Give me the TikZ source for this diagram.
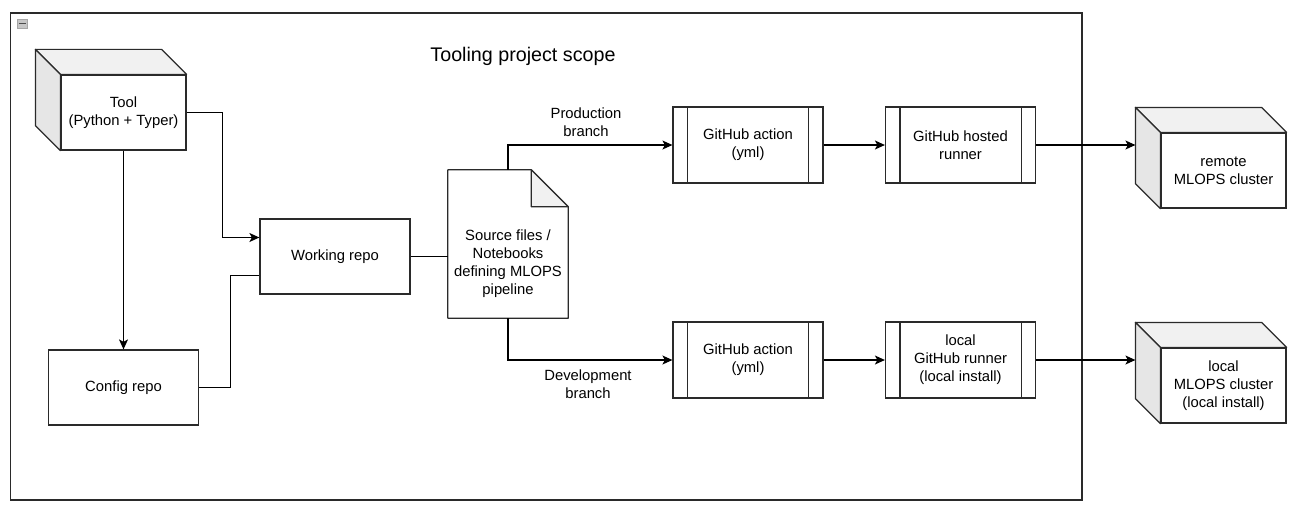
\documentclass[tikz,border=0pt]{standalone}
\usepackage{fontspec}
\setmainfont{Liberation Sans}
\usetikzlibrary{arrows.meta,calc}
\definecolor{lc}{HTML}{2A2A2A}
\definecolor{topc}{HTML}{F1F1F1}
\definecolor{sidec}{HTML}{E6E6E6}
\tikzset{
  base/.style={font=\fontsize{14.8}{18}\selectfont, align=center, text=black, inner sep=0pt},
  box/.style={base, draw=lc, line width=1.2pt, fill=white, minimum width=150pt, minimum height=75pt},
  cubefront/.style={base, draw=lc, line width=1.2pt, fill=white, minimum width=125pt, minimum height=75pt},
  proc/.style={base, draw=lc, line width=1.2pt, fill=white, minimum width=150pt, minimum height=76pt},
  conn/.style={draw=black, line width=1.2pt},
  arr/.style={conn, -{Stealth[length=10pt,width=9pt,inset=2.5pt]}},
}
\newcommand{\mycube}[1]{%
  \filldraw[fill=topc, draw=lc, line width=1.2pt, line join=round] (#1.north west) -- ++(-25,-25) -- ($(#1.north east)+(-25,-25)$) -- (#1.north east) -- cycle;
  \filldraw[fill=sidec, draw=lc, line width=1.2pt, line join=round] (#1.north west) -- ++(-25,-25) -- ($(#1.south west)+(-25,-25)$) -- (#1.south west) -- cycle;
  \coordinate (#1back) at ($(#1.north west)+(-25,-25)$);
}
\newcommand{\myproc}[1]{%
  \draw[lc, line width=1.2pt] ($(#1.north west)+(15,0)$) -- ($(#1.south west)+(15,0)$);
  \draw[lc, line width=1.2pt] ($(#1.north east)+(-15,0)$) -- ($(#1.south east)+(-15,0)$);
}
\begin{document}
\begin{tikzpicture}[x=1pt,y=-1pt]
\useasboundingbox (0,0) rectangle (1297,511);
% outer frame
\draw[lc, line width=1.2pt] (10.5,13) rectangle (1082,500);
\filldraw[fill=gray!45, draw=gray!70] (17,19) rectangle (27,28);
\draw[black!70, line width=1.5pt] (18.5,23.5) -- (25.5,23.5);
\node[base, font=\fontsize{19.7}{22}\selectfont] (title) at (523,56.5) {Tooling project scope};

% tool cube
\node[cubefront] (tool) at (123.5,112.5) {\rule{0pt}{3pt}Tool\\(Python + Typer)};
\mycube{tool}
% config repo
\node[box] (cfg) at (123.5,387.5) {\raisebox{-1.5pt}{Config repo}};
% working repo
\node[box] (work) at (335,256.5) {\raisebox{-1.5pt}{Working repo}};
% document
\node[base, minimum width=120pt, minimum height=148pt] (doc) at (508,244) {};
\filldraw[fill=white, draw=lc, line width=1.2pt, line join=round] (doc.north west) -- ($(doc.north east)+(-37,0)$) -- ($(doc.north east)+(0,37)$) -- (doc.south east) -- (doc.south west) -- cycle;
\filldraw[fill=topc, draw=lc, line width=1.2pt, line join=round] ($(doc.north east)+(-37,0)$) -- ($(doc.north east)+(-37,37)$) -- ($(doc.north east)+(0,37)$) -- cycle;
\node[base] (doctext) at (508,263.5) {Source files /\\Notebooks\\defining MLOPS\\pipeline};

% top row
\node[proc] (act1) at (748,145) {\rule{0pt}{3pt}GitHub action\\(yml)};
\myproc{act1}
\node[proc] (run1) at (960.5,145) {\rule{0pt}{3pt}GitHub hosted\\runner};
\myproc{run1}
\node[cubefront] (rem) at (1223.5,170.5) {\rule{0pt}{3pt}remote\\MLOPS cluster};
\mycube{rem}

% bottom row
\node[proc] (act2) at (748,360) {\rule{0pt}{3pt}GitHub action\\(yml)};
\myproc{act2}
\node[proc] (run2) at (960.5,360) {\rule{0pt}{3pt}local\\GitHub runner\\(local install)};
\myproc{run2}
\node[cubefront] (loc) at (1223.5,385.5) {\rule{0pt}{3pt}local\\MLOPS cluster\\(local install)};
\mycube{loc}

% connectors
\draw[arr] (tool.east) -- (222.5,112.5) |- ([yshift=19pt]work.west);
\draw[arr] (tool.south) -- (tool.south |- cfg.north);
\draw[conn] (cfg.east) -- (230.5,387.5) |- ([yshift=-19pt]work.west);
\draw[conn] (work.east) -- (doc.west |- work.east);
\draw[arr] (doc.north) |- (act1.west);
\draw[arr] (doc.south) |- (act2.west);
\draw[arr] (act1.east) -- (run1.west);
\draw[arr] (act2.east) -- (run2.west);
\draw[arr] (run1.east) -- (remback |- run1.east);
\draw[arr] (run2.east) -- (locback |- run2.east);

\node[base] (plab) at (586,122.5) {Production\\branch};
\node[base] (dlab) at (588,384.5) {Development\\branch};
\end{tikzpicture}
\end{document}
